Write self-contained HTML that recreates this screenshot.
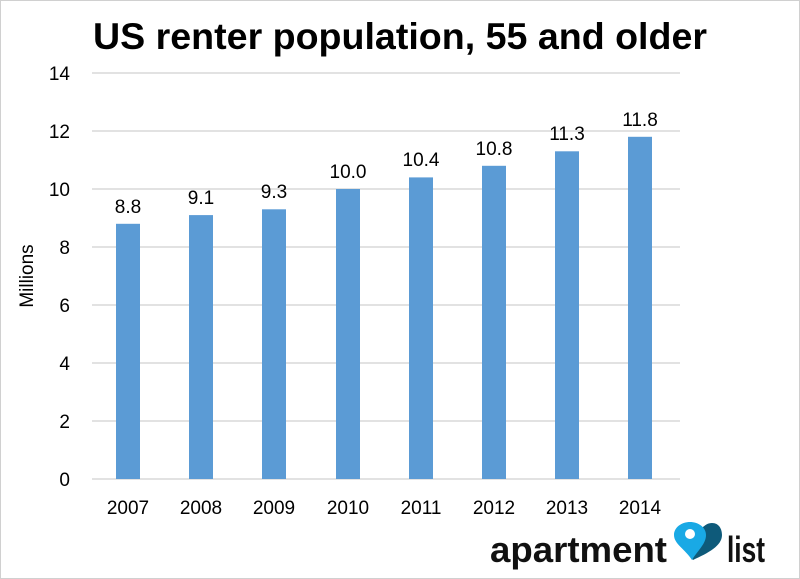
<!DOCTYPE html>
<html><head><style>body{margin:0;background:#fff}svg{display:block}</style></head><body>
<svg width="800" height="579" viewBox="0 0 800 579" xmlns="http://www.w3.org/2000/svg" font-family="Liberation Sans, sans-serif">
<rect x="0.5" y="0.5" width="799" height="578" fill="#fff" stroke="#d0d0d0"/>
<text x="400" y="49" text-anchor="middle" font-size="37" font-weight="bold" fill="#000" textLength="614" lengthAdjust="spacingAndGlyphs">US renter population, 55 and older</text>
<g stroke="#d9d9d9" stroke-width="1.5">
<line x1="92" y1="73" x2="680" y2="73"/><line x1="92" y1="131" x2="680" y2="131"/><line x1="92" y1="189" x2="680" y2="189"/><line x1="92" y1="247" x2="680" y2="247"/><line x1="92" y1="305" x2="680" y2="305"/><line x1="92" y1="363" x2="680" y2="363"/><line x1="92" y1="421" x2="680" y2="421"/><line x1="92" y1="479" x2="680" y2="479"/>
</g>
<g font-size="19" text-anchor="end" fill="#000">
<text x="70" y="80">14</text><text x="70" y="138">12</text><text x="70" y="196">10</text><text x="70" y="254">8</text><text x="70" y="312">6</text><text x="70" y="370">4</text><text x="70" y="428">2</text><text x="70" y="486">0</text>
</g>
<text transform="translate(33,276) rotate(-90)" text-anchor="middle" font-size="19">Millions</text>
<g fill="#5b9bd5">
<rect x="116" y="223.8" width="24" height="255.2"/>
<rect x="189" y="215.1" width="24" height="263.9"/>
<rect x="262" y="209.3" width="24" height="269.7"/>
<rect x="336" y="189" width="24" height="290"/>
<rect x="409" y="177.4" width="24" height="301.6"/>
<rect x="482" y="165.8" width="24" height="313.2"/>
<rect x="555" y="151.3" width="24" height="327.7"/>
<rect x="628" y="136.8" width="24" height="342.2"/>
</g>
<g font-size="19" text-anchor="middle">
<text x="128" y="213">8.8</text><text x="201" y="204">9.1</text><text x="274" y="198">9.3</text><text x="348" y="178">10.0</text><text x="421" y="166">10.4</text><text x="494" y="155">10.8</text><text x="567" y="140">11.3</text><text x="640" y="126">11.8</text>
<text x="128" y="514">2007</text><text x="201" y="514">2008</text><text x="274" y="514">2009</text><text x="348" y="514">2010</text><text x="421" y="514">2011</text><text x="494" y="514">2012</text><text x="567" y="514">2013</text><text x="640" y="514">2014</text>
</g>
<text x="490" y="562" font-size="36" font-weight="bold" fill="#111" textLength="177" lengthAdjust="spacingAndGlyphs">apartment</text>
<text x="727" y="562" font-size="36" font-weight="bold" fill="#111" textLength="38" lengthAdjust="spacingAndGlyphs">list</text>
<path d="M693 560 C686 550 681 545 681 535 C681 528 687 523 693 523 C697 523 700 525 702 528 C705 525 708 523 712 523 C719 523 722 529 722 535 C722 546 708 553 693 560Z" fill="#0e5a7a"/>
<path d="M692 560 C685 549 674 544 674 535 C674 527 682 522 690 522 C698 522 706 527 706 535 C706 544 698 550 692 560Z" fill="#19a9e5"/>
<circle cx="690" cy="534" r="5" fill="#fff"/>
</svg>
</body></html>
